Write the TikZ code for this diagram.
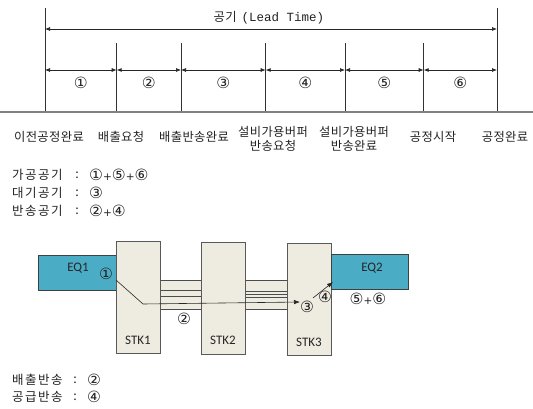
\documentclass[tikz,border=0pt]{standalone}
\usepackage{fontspec}
\setmainfont{Noto Sans CJK KR}
\newfontfamily\krlab[LetterSpace=3]{Noto Sans CJK KR}
\newfontfamily\krsum[LetterSpace=12]{Noto Sans CJK KR}
\newfontfamily\monofnt{Liberation Mono}
\newfontfamily\latfnt{Carlito}
\newfontfamily\circfnt{DejaVu Sans}
\usetikzlibrary{arrows.meta,calc}
\definecolor{eqc}{HTML}{4BACC6}
\definecolor{stkc}{HTML}{EEECE1}
\definecolor{txt}{HTML}{222222}
\newcommand{\cn}[1]{{\circfnt\fontsize{15.5}{15.5}\selectfont #1}}
\newcommand{\pl}{{\circfnt\fontsize{10.5}{10.5}\selectfont +}}
\begin{document}
\begin{tikzpicture}[x=1pt,y=-1pt,
  vline/.style={draw=black!80, line width=0.7pt},
  dimarrow/.style={{Latex[length=5pt,width=4pt]}-{Latex[length=5pt,width=4pt]}, line width=0.7pt, black!85},
  lbl/.style={font=\krlab\fontsize{12.3}{14.5}\selectfont, inner sep=0pt, align=center, text=txt},
  sumtxt/.style={font=\krsum\fontsize{12.5}{14}\selectfont, inner sep=0pt, text=txt},
  circ/.style={inner sep=0pt, text=txt},
  eqbox/.style={draw=black!75, fill=eqc, line width=0.6pt, minimum width=78pt, minimum height=35pt, anchor=north west, inner sep=0pt},
  stkbox/.style={draw=black!65, fill=stkc, line width=0.8pt, minimum width=44pt, minimum height=112pt, anchor=north west, inner sep=0pt},
  boxtxt/.style={font=\latfnt\fontsize{13}{13}\selectfont, inner sep=0pt, text=black!85},
  band/.style={draw=black!70, fill=stkc, line width=0.6pt},
  bandline/.style={draw=black!70, line width=0.6pt},
  flow/.style={line width=0.6pt, black!85, -{Latex[length=6pt,width=4.5pt]}}
]
\useasboundingbox (0,0) rectangle (533,408);

% ---------------- timeline ----------------
\foreach \i/\x in {0/45,1/116.7,2/181,3/265.7,4/345,5/423.7,6/497}{
  \coordinate (b\i) at (\x,112);
  \coordinate (m\i) at (\x,70);
  \coordinate (t\i) at (\x,43);
}
\coordinate (T0) at (45,8);
\coordinate (T6) at (497,8);
\coordinate (L0) at (45,29);
\coordinate (L6) at (497,29);
\coordinate (baseL) at (0,112);
\coordinate (baseR) at (533,112);

\draw[vline] (b0) -- (T0);
\draw[vline] (b6) -- (T6);
\foreach \i in {1,...,5}{ \draw[vline] (b\i) -- (t\i); }
\draw[draw=black!50, line width=1.6pt] (baseL) -- (baseR);

\draw[dimarrow] (L0) -- (L6);
\node[lbl] (title) at (269,18) {공기\hspace{5pt}{\monofnt\fontsize{12.5}{14}\selectfont (Lead Time)}};

\foreach \a/\b/\n in {0/1/①,1/2/②,2/3/③,3/4/④,4/5/⑤,5/6/⑥}{
  \draw[dimarrow] (m\a) -- (m\b);
  \node[circ] (c\a) at ($ (m\a)!0.5!(m\b) + (0,13) $) {\cn{\n}};
}

\node[lbl] (e0) at (49,137) {이전공정완료};
\node[lbl] (e1) at (121,137) {배출요청};
\node[lbl] (e2) at (194,137) {배출반송완료};
\node[lbl] (e3) at (273,139) {설비가용버퍼\\반송요청};
\node[lbl] (e4) at (354,139) {설비가용버퍼\\반송완료};
\node[lbl] (e5) at (433,137) {공정시작};
\node[lbl] (e6) at (505,137) {공정완료};

% ---------------- summary text ----------------
\node[sumtxt, anchor=west] (k1) at (12,175) {가공공기};
\node[sumtxt] (k1c) at (77,175) {:};
\node[circ, anchor=west] (k1v) at (89,175) {\cn{①}\pl\cn{⑤}\pl\cn{⑥}};
\node[sumtxt, anchor=west] (k2) at (12,193) {대기공기};
\node[sumtxt] (k2c) at (77,193) {:};
\node[circ, anchor=west] (k2v) at (89,193) {\cn{③}};
\node[sumtxt, anchor=west] (k3) at (12,211) {반송공기};
\node[sumtxt] (k3c) at (77,211) {:};
\node[circ, anchor=west] (k3v) at (89,211) {\cn{②}\pl\cn{④}};

\node[sumtxt, anchor=west] (r1) at (12,380) {배출반송};
\node[sumtxt] (r1c) at (75,380) {:};
\node[circ, anchor=west] (r1v) at (87,380) {\cn{②}};
\node[sumtxt, anchor=west] (r2) at (12,397) {공급반송};
\node[sumtxt] (r2c) at (75,397) {:};
\node[circ, anchor=west] (r2v) at (87,397) {\cn{④}};

% ---------------- equipment diagram ----------------
\path[band] (160,280) rectangle (201,309);
\path[band] (244,280) rectangle (287,309);
\draw[bandline] (160,290) -- (201,290);
\draw[bandline] (160,296) -- (201,296);
\draw[bandline] (244,291) -- (287,291);
\draw[bandline] (244,294) -- (287,294);
\draw[bandline] (244,297) -- (287,297);

\node[eqbox] (eq1) at (38,255) {};
\node[stkbox] (stk1) at (116,241) {};
\node[stkbox] (stk2) at (201,242) {};
\node[stkbox] (stk3) at (287,243) {};
\node[eqbox, minimum width=77pt] (eq2) at (331,254) {};

\node[boxtxt] (eq1t) at (78,268) {EQ1};
\node[boxtxt] (eq2t) at (372,268) {EQ2};
\node[boxtxt] (s1t) at (138,340) {STK1};
\node[boxtxt] (s2t) at (223,340) {STK2};
\node[boxtxt] (s3t) at (309,342) {STK3};

\coordinate (p0) at (116,280);
\coordinate (p1) at (143,304);
\coordinate (p2) at (300,302);
\coordinate (q0) at (313,298);
\coordinate (q1) at (333,282);
\draw[flow] (p0) -- (p1) -- (p2);
\draw[flow] (q0) -- (q1);

\node[circ] (n1) at (106,274) {\cn{①}};
\node[circ] (n2) at (184,319) {\cn{②}};
\node[circ] (n3) at (307,307) {\cn{③}};
\node[circ] (n4) at (325,297) {\cn{④}};
\node[circ] (n56) at (368,299) {\cn{⑤}\pl\cn{⑥}};
\end{tikzpicture}
\end{document}
